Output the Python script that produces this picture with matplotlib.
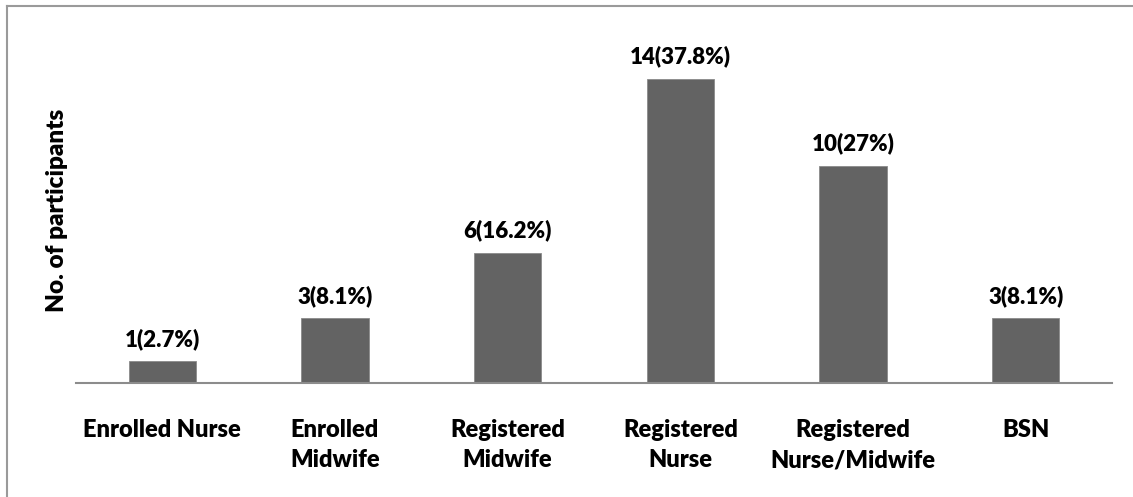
import matplotlib
matplotlib.use("Agg")
import matplotlib.pyplot as plt
from matplotlib.lines import Line2D

# ---------- donnees ----------
categories = ["Enrolled Nurse", "Enrolled\nMidwife", "Registered\nMidwife",
              "Registered\nNurse", "Registered\nNurse/Midwife", "BSN"]
counts = [1, 3, 6, 14, 10, 3]
labels = ["1(2.7%)", "3(8.1%)", "6(16.2%)", "14(37.8%)", "10(27%)", "3(8.1%)"]

BAR = "#636363"
AXIS = "#8c8c8c"
plt.rcParams["font.family"] = ["Lato", "DejaVu Sans"]

W, H = 1133, 497
fig = plt.figure(figsize=(W / 100, H / 100), dpi=100)

# axes : baseline y=383 px, x 76..1112
x0, x1 = 76, 1112
ybase, ytop = 383, 31
ax = fig.add_axes([x0 / W, 1 - ybase / H, (x1 - x0) / W, (ybase - ytop) / H])

pos = range(len(categories))
ax.bar(pos, counts, width=0.39, color=BAR, edgecolor="#8a8a8a", linewidth=0.6)
for p, c, lab in zip(pos, counts, labels):
    ax.annotate(lab, (p, c), xytext=(0, 8), textcoords="offset points",
                ha="center", va="bottom", fontsize=16, fontweight="heavy")

ax.set_xlim(-0.5, len(categories) - 0.5)
ax.set_ylim(0, 16.2)
ax.set_xticks(list(pos))
ax.set_xticklabels(categories, fontsize=17, fontweight="heavy", linespacing=1.45)
ax.tick_params(axis="x", length=0, pad=26)
ax.set_yticks([])
for s in ("top", "right", "left"):
    ax.spines[s].set_visible(False)
ax.spines["bottom"].set_color(AXIS)
ax.spines["bottom"].set_linewidth(1.5)

fig.text(57 / W, 1 - 210 / H, "No. of participants", rotation=90,
         ha="center", va="center", fontsize=17.5, fontweight="heavy")

# cadre (gauche + haut seulement, image rognee)
fig.add_artist(Line2D([7 / W, 7 / W], [0, 1 - 6 / H], color="#9a9a9a", lw=1.5,
                      transform=fig.transFigure))
fig.add_artist(Line2D([7 / W, 1], [1 - 6 / H, 1 - 6 / H], color="#9a9a9a", lw=1.5,
                      transform=fig.transFigure))

fig.savefig("out.png", dpi=100)
